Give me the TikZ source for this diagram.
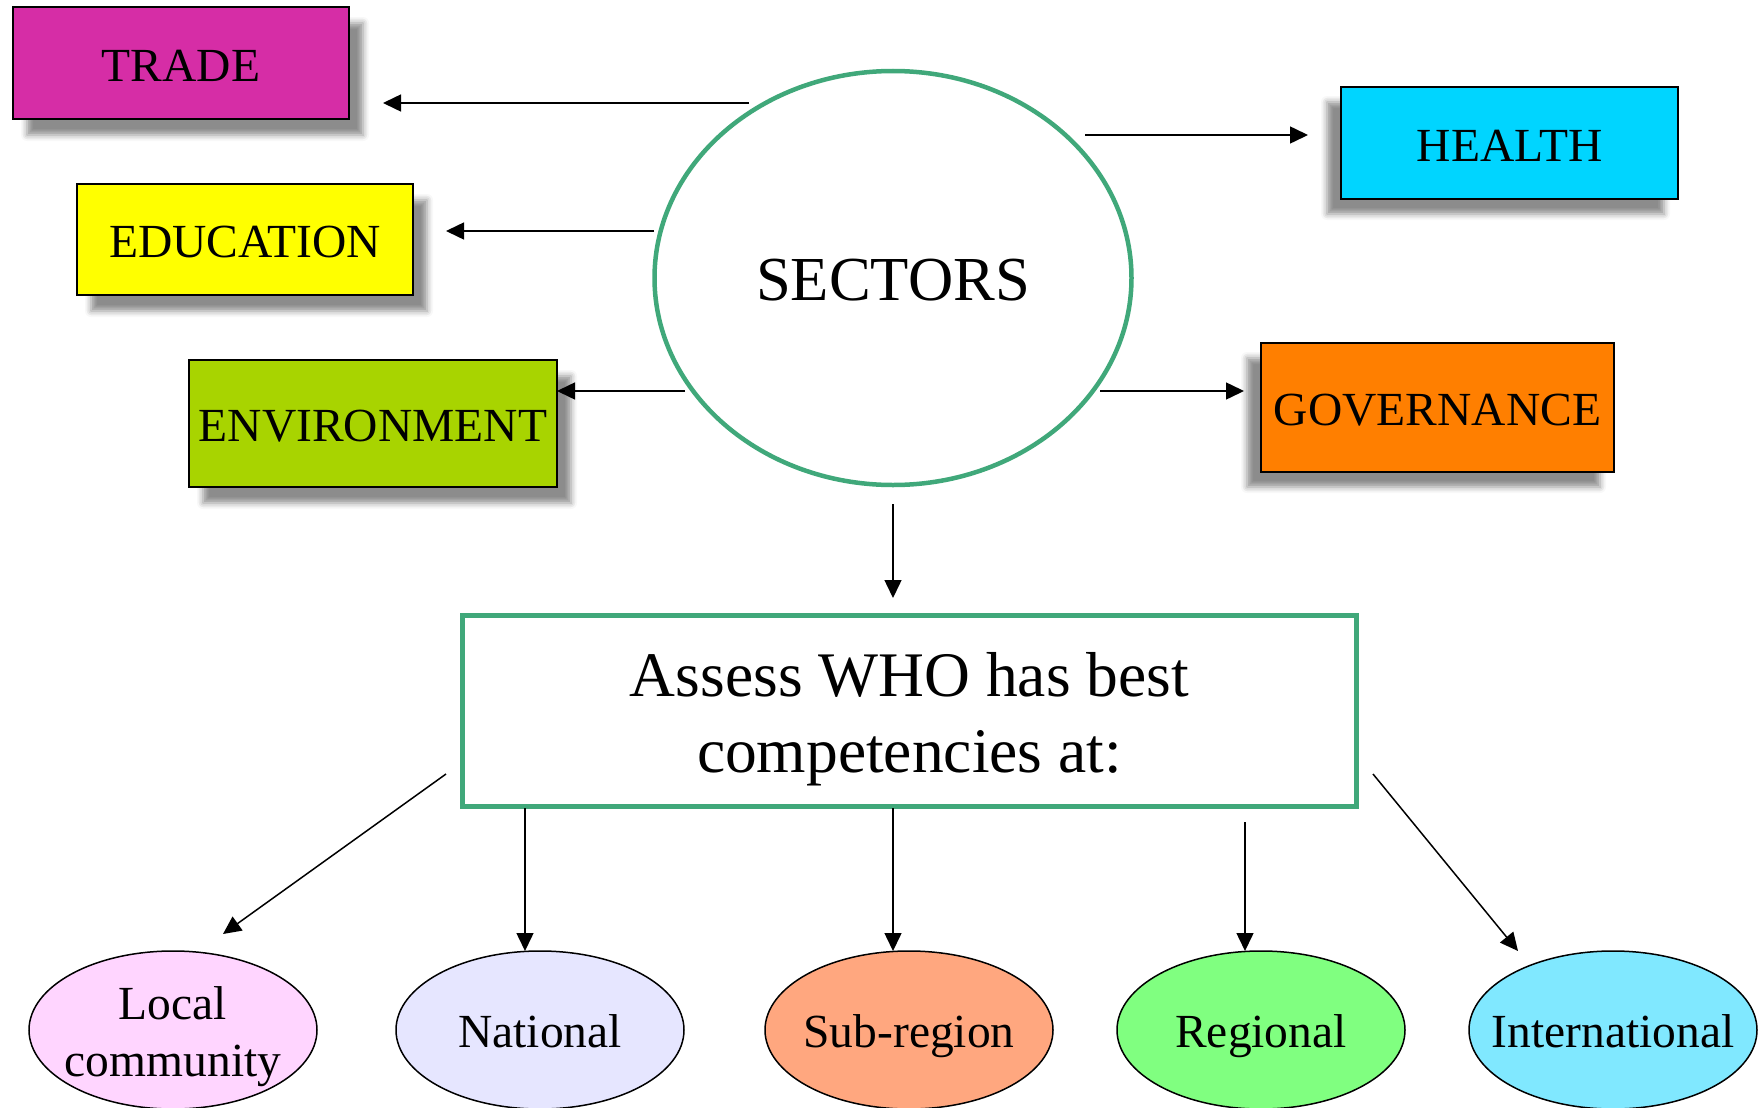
\documentclass[tikz,border=0pt]{standalone}
\usepackage{fontspec}
\setmainfont{Liberation Serif}
\usetikzlibrary{shapes.geometric,arrows.meta,shadows.blur}
\definecolor{cTrade}{RGB}{214,45,166}
\definecolor{cEdu}{RGB}{255,255,0}
\definecolor{cEnv}{RGB}{168,212,0}
\definecolor{cHealth}{RGB}{0,213,255}
\definecolor{cGov}{RGB}{255,127,0}
\definecolor{cGreen}{RGB}{64,168,122}
\definecolor{cLocal}{RGB}{255,213,255}
\definecolor{cNat}{RGB}{230,230,255}
\definecolor{cSub}{RGB}{255,167,127}
\definecolor{cReg}{RGB}{128,255,128}
\definecolor{cInt}{RGB}{128,232,255}
\tikzset{
  sector/.style={draw=black, line width=1.5pt, rectangle, inner sep=0pt,
    font=\fontsize{47.5}{57}\selectfont},
  sectortext/.style={font=\fontsize{47.5}{57}\selectfont, yshift=-2.5pt},
  lshadow/.style={blur shadow={shadow xshift=14pt, shadow yshift=-16pt,
    shadow blur radius=6pt, shadow opacity=45}},
  rshadow/.style={blur shadow={shadow xshift=-14pt, shadow yshift=-15pt,
    shadow blur radius=6pt, shadow opacity=45}},
  level/.style={draw=black, line width=1.5pt, ellipse, inner sep=0pt,
    minimum width=288pt, minimum height=158pt},
  lvltext/.style={font=\fontsize{47.5}{57}\selectfont, align=center, text depth=0pt},
  arr/.style={line width=1.5pt, -{Triangle[length=18pt,width=17pt]}},
}
\begin{document}
\begin{tikzpicture}[x=1pt,y=-1pt]
\useasboundingbox (0,0) rectangle (1759,1108);
% sector boxes
\node[sector, lshadow, fill=cTrade, minimum width=336pt, minimum height=112pt,
  label={[sectortext]center:TRADE}] (trade) at (181,63) {};
\node[sector, lshadow, fill=cEdu, minimum width=336pt, minimum height=111pt,
  label={[sectortext]center:EDUCATION}] (edu) at (245,239.5) {};
\node[sector, lshadow, fill=cEnv, minimum width=368pt, minimum height=127pt,
  label={[sectortext]center:ENVIRONMENT}] (env) at (373,423.5) {};
\node[sector, rshadow, fill=cHealth, minimum width=337pt, minimum height=112pt,
  label={[sectortext]center:HEALTH}] (health) at (1509.5,143) {};
\node[sector, rshadow, fill=cGov, minimum width=353pt, minimum height=129pt,
  label={[sectortext]center:GOVERNANCE}] (gov) at (1437.5,407.5) {};
% central ellipse
\node[ellipse, draw=cGreen, line width=4.5pt, fill=white, minimum width=477pt, minimum height=414pt,
  inner sep=0pt, label={[font=\fontsize{62.6}{70}\selectfont, yshift=-2.5pt]center:SECTORS}] (sectors) at (893,278) {};
% assess box
\node[rectangle, draw=cGreen, line width=5pt, minimum width=894pt, minimum height=191pt, inner sep=0pt,
  label={[align=center, font=\fontsize{63.5}{76}\selectfont, yshift=-8pt]center:Assess WHO has best\\competencies at:}] (assess) at (909.5,711) {};
% levels
\node[level, fill=cLocal, label={[lvltext, yshift=-2pt]center:Local\\community}] (local) at (173,1030) {};
\node[level, fill=cNat, label={[lvltext, yshift=-1pt]center:National}] (nat) at (540,1030) {};
\node[level, fill=cSub, label={[lvltext, yshift=-1pt]center:Sub-region}] (sub) at (909,1030) {};
\node[level, fill=cReg, label={[lvltext, yshift=-1pt]center:Regional}] (reg) at (1261,1030) {};
\node[level, fill=cInt, label={[lvltext, yshift=-1pt]center:International}] (int) at (1613,1030) {};
% connector end points
\coordinate (tA) at (749,103);  \coordinate (tB) at (383,103);
\coordinate (eA) at (654,231);  \coordinate (eB) at (446,231);
\coordinate (vA) at (685,391);  \coordinate (vB) at (557,391);
\coordinate (hA) at (1085,135); \coordinate (hB) at (1308,135);
\coordinate (gA) at (1100,391); \coordinate (gB) at (1244,391);
\coordinate (dA) at (893,504);  \coordinate (dB) at (893,598);
\coordinate (lA) at (446,774);  \coordinate (lB) at (223,934);
\coordinate (nA) at (525,808);  \coordinate (nB) at (525,951);
\coordinate (sA) at (893,808);  \coordinate (sB) at (893,951);
\coordinate (rA) at (1245,822); \coordinate (rB) at (1245,951);
\coordinate (iA) at (1373,774); \coordinate (iB) at (1518,951);
\draw[arr] (tA) -- (tB);
\draw[arr] (eA) -- (eB);
\draw[arr] (vA) -- (vB);
\draw[arr] (hA) -- (hB);
\draw[arr] (gA) -- (gB);
\draw[arr] (dA) -- (dB);
\draw[arr] (lA) -- (lB);
\draw[arr] (nA) -- (nB);
\draw[arr] (sA) -- (sB);
\draw[arr] (rA) -- (rB);
\draw[arr] (iA) -- (iB);
\end{tikzpicture}
\end{document}
